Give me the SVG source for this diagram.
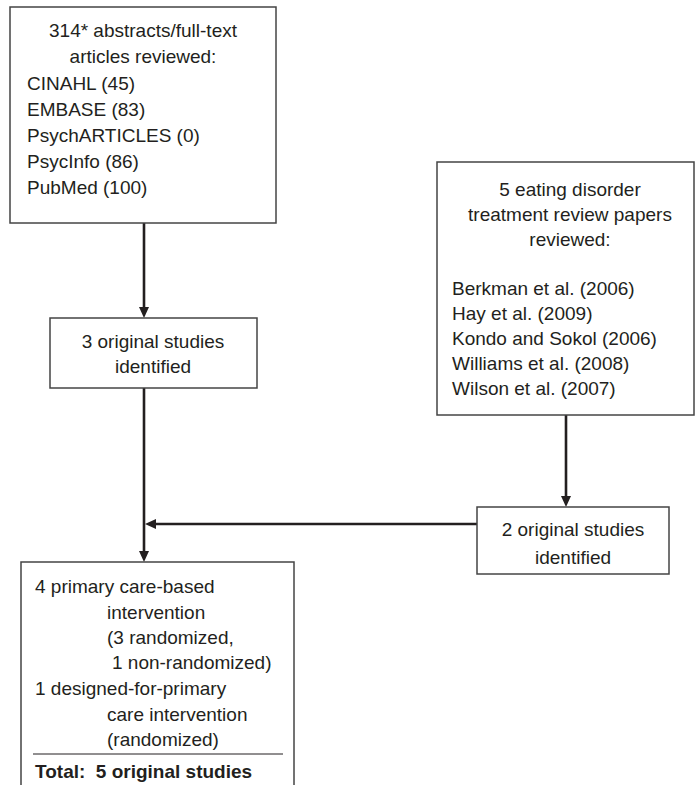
<svg xmlns="http://www.w3.org/2000/svg" width="696" height="785" viewBox="0 0 696 785">
<defs>
<style>
.box{fill:#fff;stroke:#444;stroke-width:1.5}
.t{font-family:"Liberation Sans",Arial,sans-serif;font-size:19px;fill:#231f20}
.c{text-anchor:middle}
.b{font-weight:bold}
.conn{fill:none;stroke:#231f20;stroke-width:2.6}
</style>
<marker id="arr" markerUnits="userSpaceOnUse" markerWidth="12" markerHeight="11" refX="5" refY="5" orient="auto">
<path d="M0,0 L11,5 L0,10 z" fill="#231f20"/>
</marker>
</defs>
<rect width="696" height="785" fill="#fff"/>

<g id="connectors">
<path class="conn" d="M144,223 V312" marker-end="url(#arr)"/>
<path class="conn" d="M144,388 V556" marker-end="url(#arr)"/>
<path class="conn" d="M477,524 H151" marker-end="url(#arr)"/>
<path class="conn" d="M566,415 V501" marker-end="url(#arr)"/>
</g>

<g id="search">
<rect class="box" x="10" y="7" width="266" height="216"/>
<text class="t c" x="143" y="37">314* abstracts/full-text</text>
<text class="t c" x="143" y="63">articles reviewed:</text>
<text class="t" x="27" y="90">CINAHL (45)</text>
<text class="t" x="27" y="116">EMBASE (83)</text>
<text class="t" x="27" y="142">PsychARTICLES (0)</text>
<text class="t" x="27" y="168">PsycInfo (86)</text>
<text class="t" x="27" y="194">PubMed (100)</text>
</g>

<g id="studies3">
<rect class="box" x="50" y="318" width="207" height="70"/>
<text class="t c" x="153" y="348">3 original studies</text>
<text class="t c" x="153" y="373">identified</text>
</g>

<g id="reviews">
<rect class="box" x="437" y="162" width="257" height="253"/>
<text class="t c" x="570" y="196">5 eating disorder</text>
<text class="t c" x="570" y="221">treatment review papers</text>
<text class="t c" x="570" y="246">reviewed:</text>
<text class="t" x="452" y="295">Berkman et al. (2006)</text>
<text class="t" x="452" y="320">Hay et al. (2009)</text>
<text class="t" x="452" y="345">Kondo and Sokol (2006)</text>
<text class="t" x="452" y="370">Williams et al. (2008)</text>
<text class="t" x="452" y="395">Wilson et al. (2007)</text>
</g>

<g id="studies2">
<rect class="box" x="477" y="507" width="192" height="67"/>
<text class="t c" x="573" y="536">2 original studies</text>
<text class="t c" x="573" y="564">identified</text>
</g>

<g id="total">
<rect class="box" x="21" y="562" width="273" height="240"/>
<text class="t" x="35" y="593">4 primary care-based</text>
<text class="t" x="107" y="619">intervention</text>
<text class="t" x="107" y="644">(3 randomized,</text>
<text class="t" x="112" y="669">1 non-randomized)</text>
<text class="t" x="35" y="695">1 designed-for-primary</text>
<text class="t" x="107" y="721">care intervention</text>
<text class="t" x="107" y="746">(randomized)</text>
<line x1="33" y1="754" x2="283" y2="754" stroke="#231f20" stroke-width="1"/>
<text class="t b" x="35" y="778" xml:space="preserve">Total:  5 original studies</text>
</g>
</svg>
